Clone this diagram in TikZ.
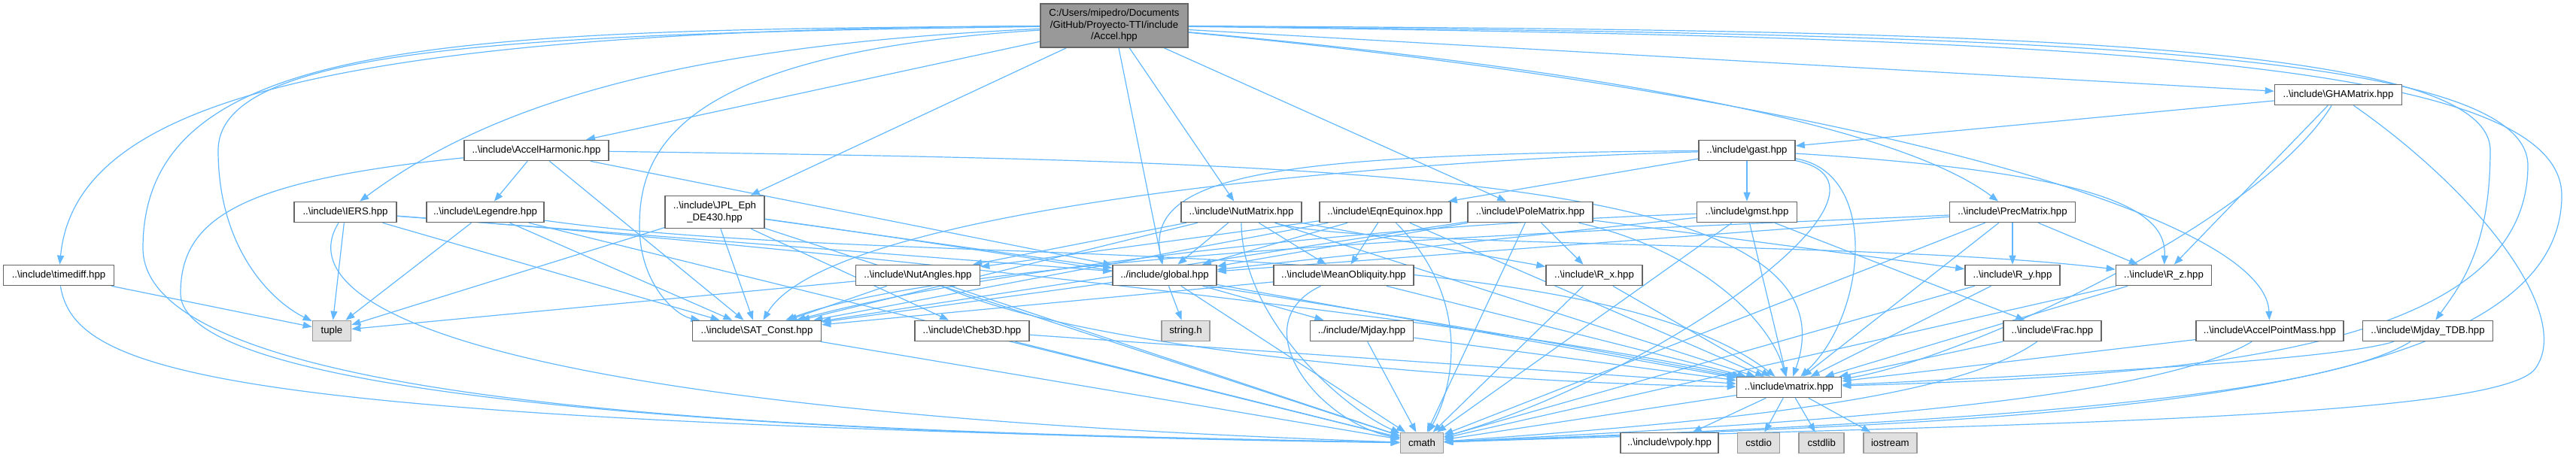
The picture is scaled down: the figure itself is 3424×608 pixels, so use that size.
\documentclass[tikz,border=0pt]{standalone}
\usepackage{fontspec}
\setmainfont{Liberation Sans}
\usepackage{xcolor}
\usepackage{tikz}
\usetikzlibrary{arrows.meta, positioning, backgrounds}
\definecolor{edgeblue}{HTML}{63B8FF}
\definecolor{boxline}{HTML}{666666}
\definecolor{sysline}{HTML}{999999}
\definecolor{sysfill}{HTML}{E0E0E0}
\definecolor{rootfill}{HTML}{999999}
\newcommand{\incdir}{..\textbackslash include\textbackslash}

\begin{document}
\begin{tikzpicture}[
  x=1pt, y=-1pt,
  box/.style={rectangle, draw=boxline, fill=white, line width=1.6pt,
              minimum width=#1, minimum height=27pt, inner sep=0pt,
              align=center, font=\fontsize{13.2}{15.5}\selectfont},
  sysbox/.style={box=#1, draw=sysline, fill=sysfill},
  arr/.style={-{Triangle[length=12pt,width=9pt]}, line width=1.2pt, edgeblue},
  node distance=24pt
]
\useasboundingbox (0,0) rectangle (3424,608);

\node[box=196, fill=rootfill, minimum height=58] (accel) at (1481,34)
  {C:/Users/mipedro/Documents\\/GitHub/Proyecto-TTI/include\\/Accel.hpp};
\node[box=169] (ghamatrix) at (3108,126) {\incdir GHAMatrix.hpp};
\node[box=192] (accharm) at (713,200) {\incdir AccelHarmonic.hpp};
\node[box=128] (gast) at (2322,200) {\incdir gast.hpp};

\node[box=136] (iers) at (459,282) {\incdir IERS.hpp};
\node[box=156] (legendre) at (645,282) {\incdir Legendre.hpp};
\node[box=132, minimum height=43] (jpl) at (950,282) {\incdir JPL\_Eph\\\_DE430.hpp};
\node[box=160] (nutmatrix) at (1650,282) {\incdir NutMatrix.hpp};
\node[box=174] (eqnequinox) at (1841,282) {\incdir EqnEquinox.hpp};
\node[box=166] (polematrix) at (2034,282) {\incdir PoleMatrix.hpp};
\node[box=133] (gmst) at (2322,282) {\incdir gmst.hpp};
\node[box=167] (precmatrix) at (2675,282) {\incdir PrecMatrix.hpp};

\node[box=147] (timediff) at (78,366) {\incdir timediff.hpp};
\node[box=165] (nutangles) at (1220,366) {\incdir NutAngles.hpp};
\node[box=138] (global) at (1548,366) {../include/global.hpp};
\node[box=186] (meanobl) at (1786,366) {\incdir MeanObliquity.hpp};
\node[box=128] (rx) at (2119,366) {\incdir R\_x.hpp};
\node[box=126] (ry) at (2675,366) {\incdir R\_y.hpp};
\node[box=127] (rz) at (2876,366) {\incdir R\_z.hpp};

\node[sysbox=51] (tuple) at (441,440) {tuple};
\node[box=171] (satconst) at (1006,440) {\incdir SAT\_Const.hpp};
\node[box=152] (cheb) at (1292,440) {\incdir Cheb3D.hpp};
\node[sysbox=64] (stringh) at (1576,440) {string.h};
\node[box=137] (mjday) at (1810,440) {../include/Mjday.hpp};
\node[box=130] (frac) at (2728,440) {\incdir Frac.hpp};
\node[box=196] (apm) at (3017,440) {\incdir AccelPointMass.hpp};
\node[box=173] (mjdaytdb) at (3227,440) {\incdir Mjday\_TDB.hpp};

\node[box=139] (matrix) at (2378,515) {\incdir matrix.hpp};

\node[sysbox=57] (cmath) at (1890,589) {cmath};
\node[box=130] (vpoly) at (2219,589) {\incdir vpoly.hpp};
\node[sysbox=56, right=24pt of vpoly] (cstdio) {cstdio};
\node[sysbox=60, right=24pt of cstdio] (cstdlib) {cstdlib};
\node[sysbox=71, right=24pt of cstdlib] (iostream) {iostream};

\begin{scope}[on background layer]
\draw[arr] (accel) edge (accharm) edge (jpl) edge (global) edge (nutmatrix)
  edge (polematrix) edge (ghamatrix);
\draw[arr] (accel) .. controls (420,40) and (100,140) .. (timediff);
\draw[arr] (accel) .. controls (600,40) and (190,50) .. (190,330)
  .. controls (190,560) and (1200,575) .. (cmath);
\draw[arr] (accel) .. controls (700,45) and (290,60) .. (290,200)
  .. controls (290,330) and (360,400) .. (tuple);
\draw[arr] (accel) .. controls (900,70) and (850,200) .. (850,300)
  .. controls (850,380) and (900,420) .. (satconst);
\draw[arr] (accel) .. controls (900,60) and (650,140) .. (iers);
\draw[arr] (accel) .. controls (2000,80) and (2500,150) .. (precmatrix);
\draw[arr] (accel) .. controls (2400,120) and (3010,280) .. (apm);
\draw[arr] (accel) .. controls (2600,40) and (3310,50) .. (3310,200)
  .. controls (3310,330) and (3270,380) .. (mjdaytdb);
\draw[arr] (accel) .. controls (2650,45) and (3360,60) .. (3360,220)
  .. controls (3360,470) and (2900,500) .. (matrix);
\draw[arr] (accel) .. controls (2700,50) and (3405,70) .. (3405,260)
  .. controls (3405,560) and (2600,560) .. (cmath);

\draw[arr] (timediff) edge (tuple);
\draw[arr] (timediff) .. controls (100,500) and (300,560) .. (cmath);

\draw[arr] (accharm) edge (legendre) edge (satconst) edge (global);
\draw[arr] (accharm) .. controls (1800,215) and (2480,230) .. (matrix);
\draw[arr] (accharm) .. controls (320,240) and (240,290) .. (240,390)
  .. controls (240,545) and (1200,580) .. (cmath);

\draw[arr] (legendre) edge (tuple) edge (satconst) edge (cmath);
\draw[arr] (legendre) .. controls (1200,360) and (2100,300) .. (matrix);

\draw[arr] (iers) edge (tuple) edge (satconst) edge (global);
\draw[arr] (iers) .. controls (385,400) and (600,545) .. (cmath);
\draw[arr] (iers) .. controls (1100,330) and (2000,430) .. (matrix);

\draw[arr] (jpl) edge (tuple) edge (satconst) edge (cheb) edge (global) edge (cmath);
\draw[arr] (jpl) .. controls (1300,330) and (2000,440) .. (matrix);

\draw[arr] (nutmatrix) edge (nutangles) edge (global) edge (meanobl)
  edge (satconst) edge (rx) edge (matrix);
\draw[arr] (nutmatrix) .. controls (1800,330) and (2500,320) .. (rz);
\draw[arr] (nutmatrix) .. controls (1650,420) and (1780,540) .. (cmath);

\draw[arr] (nutangles) edge (tuple) edge (satconst) edge (cmath);
\draw[arr] (nutangles) .. controls (1450,470) and (2000,510) .. (matrix);

\draw[arr] (eqnequinox) edge (nutangles) edge (meanobl) edge (global)
  edge (satconst) edge (matrix);
\draw[arr] (eqnequinox) .. controls (1960,400) and (1930,520) .. (cmath);

\draw[arr] (polematrix) edge (rx) edge (ry) edge (global) edge (satconst) edge (cmath);
\draw[arr] (polematrix) .. controls (2250,330) and (2350,420) .. (matrix);

\draw[arr] (gast) edge (eqnequinox) edge (gmst);
\draw[arr] (gast) .. controls (1700,205) and (1520,230) .. (global);
\draw[arr] (gast) .. controls (1800,215) and (1100,280) .. (satconst);
\draw[arr] (gast) .. controls (2800,230) and (2880,280) .. (rz);
\draw[arr] (gast) .. controls (2500,230) and (2480,420) .. (matrix);
\draw[arr] (gast) .. controls (2560,250) and (2200,500) .. (cmath);

\draw[arr] (gmst) edge (frac) edge (global) edge (matrix) edge (cmath);
\draw[arr] (gmst) .. controls (1800,300) and (1300,360) .. (satconst);

\draw[arr] (precmatrix) edge (ry) edge (rz) edge (global) edge (matrix) edge (cmath);
\draw[arr] (precmatrix) .. controls (2300,300) and (1300,330) .. (satconst);

\draw[arr] (ghamatrix) edge (gast) edge (rz);
\draw[arr] (ghamatrix) .. controls (3000,300) and (2600,480) .. (matrix);
\draw[arr] (ghamatrix) .. controls (3300,260) and (3420,420) .. (3370,490)
  .. controls (3320,560) and (2600,565) .. (cmath);

\draw[arr] (global) edge (stringh) edge (mjday) edge (satconst) edge (matrix) edge (cmath);
\draw[arr] (meanobl) edge (satconst) edge (matrix);
\draw[arr] (meanobl) .. controls (1650,430) and (1750,560) .. (cmath);
\draw[arr] (mjday) edge (matrix) edge (cmath);
\draw[arr] (cheb) edge (matrix) edge (cmath);
\draw[arr] (satconst) edge (cmath);
\draw[arr] (rx) edge (matrix) edge (cmath);
\draw[arr] (ry) edge (matrix) edge (cmath);
\draw[arr] (rz) edge (matrix) edge (cmath);

\draw[arr] (frac) edge (matrix);
\draw[arr] (frac) .. controls (2600,530) and (2300,560) .. (cmath);
\draw[arr] (apm) edge (matrix);
\draw[arr] (apm) .. controls (2850,540) and (2300,568) .. (cmath);
\draw[arr] (mjdaytdb) .. controls (3100,480) and (2700,500) .. (matrix);
\draw[arr] (mjdaytdb) .. controls (3050,550) and (2300,572) .. (cmath);

\draw[arr] (matrix) edge (vpoly) edge (cstdio) edge (cstdlib) edge (iostream) edge (cmath);
\end{scope}
\end{tikzpicture}
\end{document}
